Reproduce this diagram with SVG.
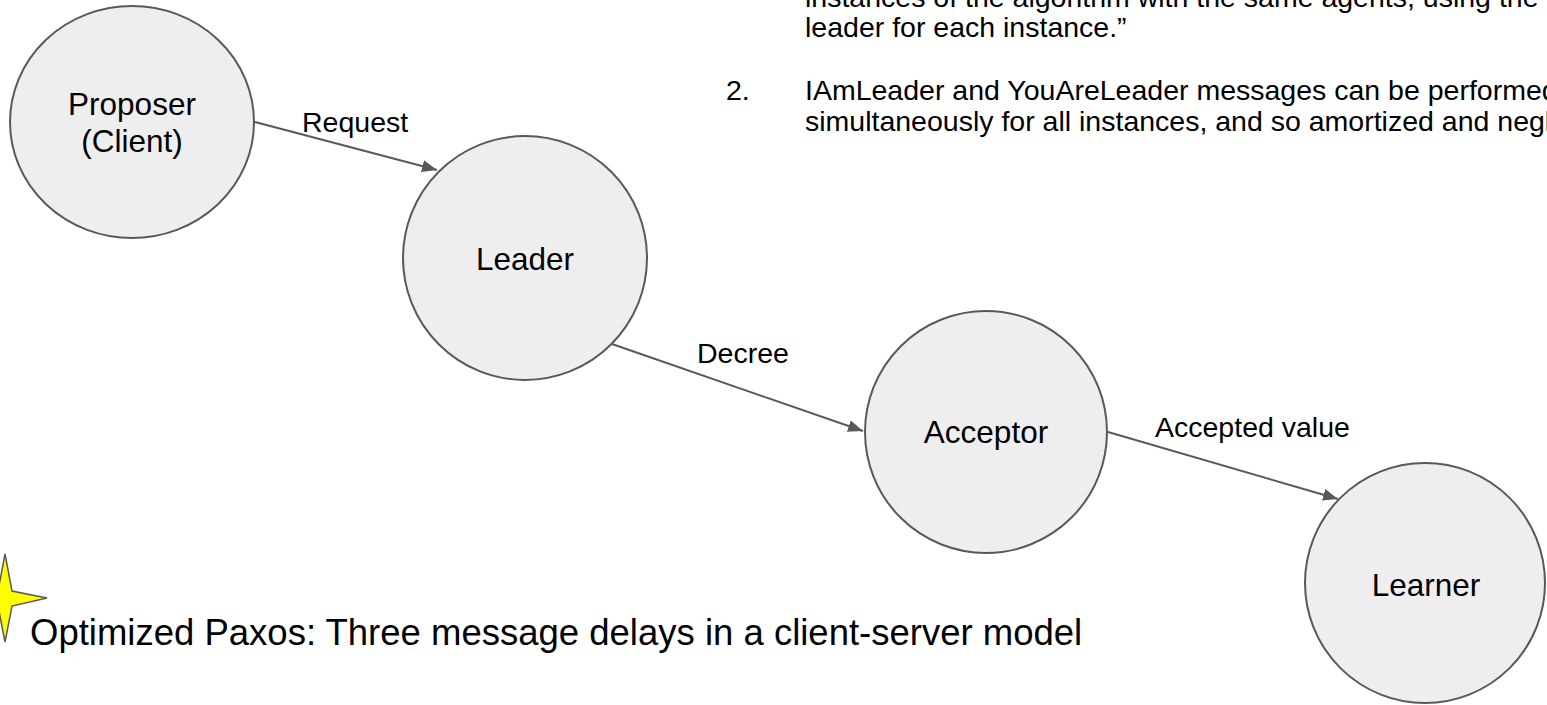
<svg xmlns="http://www.w3.org/2000/svg" width="1547" height="705" viewBox="0 0 1547 705">
<style>
.node{fill:#eeeeee;stroke:#595959;stroke-width:2}
.nt{font-family:"Liberation Sans",Arial,sans-serif;font-size:31.5px;fill:#000;text-anchor:middle}
.lbl{font-family:"Liberation Sans",Arial,sans-serif;font-size:28.5px;fill:#000}
.body{font-family:"Liberation Sans",Arial,sans-serif;font-size:28.5px;fill:#000}
.edge{fill:none;stroke:#595959;stroke-width:2}
</style>
<defs>
<marker id="arr" markerUnits="userSpaceOnUse" markerWidth="16" markerHeight="12" refX="15" refY="6" orient="auto">
<path d="M0,0 L15,6 L0,12 Z" fill="#595959"/>
</marker>
</defs>
<rect width="1547" height="705" fill="#ffffff"/>
<g id="notes">
<text class="body" x="805" y="7">instances of the algorithm with the same agents, using the same</text>
<text class="body" x="805" y="37">leader for each instance.”</text>
<text class="body" x="726" y="100">2.</text>
<text class="body" x="805" y="100">IAmLeader and YouAreLeader messages can be performed</text>
<text class="body" x="805" y="131">simultaneously for all instances, and so amortized and negligible.</text>
</g>
<g id="connectors">
<path class="edge" d="M255,122 L437,170" marker-end="url(#arr)"/>
<path class="edge" d="M612,344 L863,431" marker-end="url(#arr)"/>
<path class="edge" d="M1108,432 L1338,499" marker-end="url(#arr)"/>
<text class="lbl" x="302" y="132">Request</text>
<text class="lbl" x="697" y="363">Decree</text>
<text class="lbl" x="1155" y="437">Accepted value</text>
</g>
<g id="proposer">
<ellipse class="node" cx="132" cy="122" rx="122" ry="116"/>
<text class="nt" x="132" y="115">Proposer</text>
<text class="nt" x="132" y="152">(Client)</text>
</g>
<g id="leader">
<circle class="node" cx="525" cy="258" r="122"/>
<text class="nt" x="525" y="270">Leader</text>
</g>
<g id="acceptor">
<circle class="node" cx="986" cy="432" r="121"/>
<text class="nt" x="986" y="443">Acceptor</text>
</g>
<g id="learner">
<circle class="node" cx="1425" cy="583" r="120"/>
<text class="nt" x="1426" y="596">Learner</text>
</g>
<g id="title">
<path d="M5,554 L12,591 L47,598 L12,606 L5,642 L-2,606 L-37,598 L-2,591 Z" fill="#ffff00" stroke="#595959" stroke-width="1.5"/>
<text x="30" y="645" font-family="Liberation Sans, Arial, sans-serif" font-size="36.5" fill="#000">Optimized Paxos: Three message delays in a client-server model</text>
</g>
</svg>
